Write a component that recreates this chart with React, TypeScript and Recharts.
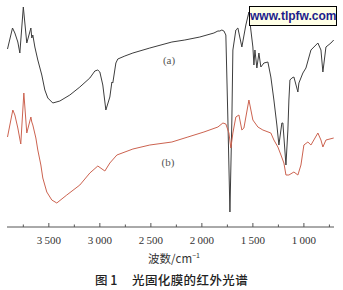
import { LineChart, Line, XAxis, YAxis } from 'recharts'

// wavenumber (cm-1) and transmittance (arbitrary %)
const waveA = [3905, 3856, 3833, 3804, 3784, 3750, 3716, 3676, 3667, 3657, 3637, 3608, 3569, 3539, 3510, 3461, 3392, 3294, 3196, 3098, 3049, 3020, 3000, 2971, 2941, 2902, 2882, 2873, 2843, 2824, 2755, 2676, 2510, 2294, 2167, 2020, 1882, 1843, 1824, 1804, 1784, 1765, 1745, 1725, 1706, 1696, 1667, 1647, 1608, 1569, 1539, 1520, 1500, 1490, 1480, 1461, 1441, 1422, 1392, 1353, 1324, 1294, 1265, 1245, 1216, 1206, 1176, 1157, 1147, 1137, 1118, 1098, 1059, 1049, 1010, 980, 931, 863, 833, 814, 784, 735, 708]
const transA = [89, 99.5, 97, 92.5, 87, 110, 92, 99.5, 94.5, 96, 90, 83.5, 76, 68.5, 64.5, 62, 63, 66, 70, 74.5, 78, 78.5, 77.5, 71, 58.5, 65, 72.5, 72, 82, 84, 85.5, 87, 89.5, 92.5, 93.5, 95, 97, 98, 98, 98.5, 98, 96, 53.5, 7.5, 53.5, 88.5, 98.5, 99.5, 90, 101, 107.5, 98.5, 90, 81, 88.5, 79.5, 87, 80, 82, 82.5, 75, 63.5, 51, 41, 52, 52, 31, 48.5, 63.5, 73.5, 74.5, 75, 67.5, 72, 77, 79.5, 88.5, 92, 88.5, 77.5, 90, 92, 93.5]

const waveB = [3905, 3853, 3833, 3804, 3775, 3745, 3716, 3676, 3667, 3657, 3627, 3608, 3578, 3559, 3520, 3471, 3422, 3324, 3196, 3098, 3020, 2951, 2902, 2833, 2676, 2510, 2294, 2137, 1980, 1843, 1794, 1765, 1735, 1716, 1696, 1667, 1637, 1608, 1588, 1539, 1500, 1451, 1402, 1324, 1294, 1255, 1225, 1196, 1176, 1147, 1098, 1059, 1029, 1000, 961, 931, 863, 833, 814, 784, 708]
const transB = [45, 58.5, 56, 49.5, 41.5, 67, 47, 55, 52.5, 51, 44.5, 38.5, 31, 24.5, 17.5, 13.5, 12, 16, 21, 27, 30.5, 28, 32, 36, 39, 41, 42.5, 45, 47.5, 50, 52, 51.5, 47, 39.5, 47, 55, 56, 48.5, 49.5, 63.5, 53.5, 50, 48.5, 47, 43.5, 40, 36, 32, 26, 26, 27.5, 26, 31, 41, 42.5, 41, 47, 43.5, 40, 43.5, 44.5]

const tickValues = [3750, 3500, 3250, 3000, 2750, 2500, 2250, 2000, 1750, 1500, 1250, 1000, 750]

const dataA = waveA.map((w, i) => ({ wave: w, t: transA[i] }))
const dataB = waveB.map((w, i) => ({ wave: w, t: transB[i] }))

function fmt(v: number): string {
    const s = String(v)
    return s.length > 3 ? s.slice(0, s.length - 3) + '\u2009' + s.slice(-3) : s
}

function WaveTick(props: any) {
    const { x, y, payload } = props
    const v = payload.value
    const major = v % 500 === 0
    return (
        <g>
            <line x1={x} x2={x} y1={y} y2={y - (major ? 4 : 2.5)} stroke='#555' strokeWidth={1} />
            {major && (
                <text x={x} y={y + 17} textAnchor='middle' fontSize={11} fill='#333' fontFamily='"Liberation Serif", serif'>
                    {fmt(v)}
                </text>
            )}
        </g>
    )
}

const abs = (left: number, top: number): React.CSSProperties => ({
    position: 'absolute', left, top, transform: 'translate(-50%, -50%)', whiteSpace: 'nowrap', lineHeight: 1
})

export default function App() {
    return (
        <div style={{ position: 'fixed', left: 0, top: 0, width: 343, height: 290, background: '#fff' }}>
            <LineChart width={343} height={290} margin={{ top: 7, right: 9, bottom: 43, left: 7 }}>
                <XAxis type='number' dataKey='wave' domain={[705, 3910]} reversed ticks={tickValues} interval={0}
                    allowDataOverflow height={20} tickSize={0} tickMargin={0} tick={<WaveTick />} stroke='#555' />
                <YAxis hide domain={[0, 110]} allowDataOverflow />
                <Line data={dataA} dataKey='t' type='linear' stroke='#3d3d3d' strokeWidth={1} dot={false} isAnimationActive={false} />
                <Line data={dataB} dataKey='t' type='linear' stroke='#cc6350' strokeWidth={1} dot={false} isAnimationActive={false} />
            </LineChart>
            <div style={{ ...abs(169, 60), fontSize: 11, color: '#555', fontFamily: '"Liberation Serif", serif' }}>(a)</div>
            <div style={{ ...abs(168, 162), fontSize: 11, color: '#555', fontFamily: '"Liberation Serif", serif' }}>(b)</div>
            <div style={{ ...abs(174, 259), fontSize: 11.5, color: '#333', fontFamily: '"Noto Sans CJK SC", serif' }}>
                波数/cm<sup style={{ fontSize: 7, verticalAlign: 'top', position: 'relative', top: -1 }}>−1</sup>
            </div>
            <div style={{ position: 'absolute', left: 95, top: 274, fontSize: 12.5, fontWeight: 500, color: '#222', fontFamily: '"Noto Sans CJK SC", sans-serif', lineHeight: 1 }}>图 1</div>
            <div style={{ position: 'absolute', left: 132, top: 274, fontSize: 12.5, fontWeight: 500, color: '#222', fontFamily: '"Noto Sans CJK SC", sans-serif', lineHeight: 1, letterSpacing: 0.4 }}>光固化膜的红外光谱</div>
            <div style={{ position: 'absolute', left: 249, top: 6, width: 86, height: 18, border: '1px solid #000', background: '#ffffe6', color: '#1c1c8c', fontFamily: '"Liberation Sans", Arial, sans-serif', fontWeight: 700, fontSize: 12, lineHeight: '18px', textAlign: 'center' }}>www.tlpfw.com</div>
        </div>
    )
}
